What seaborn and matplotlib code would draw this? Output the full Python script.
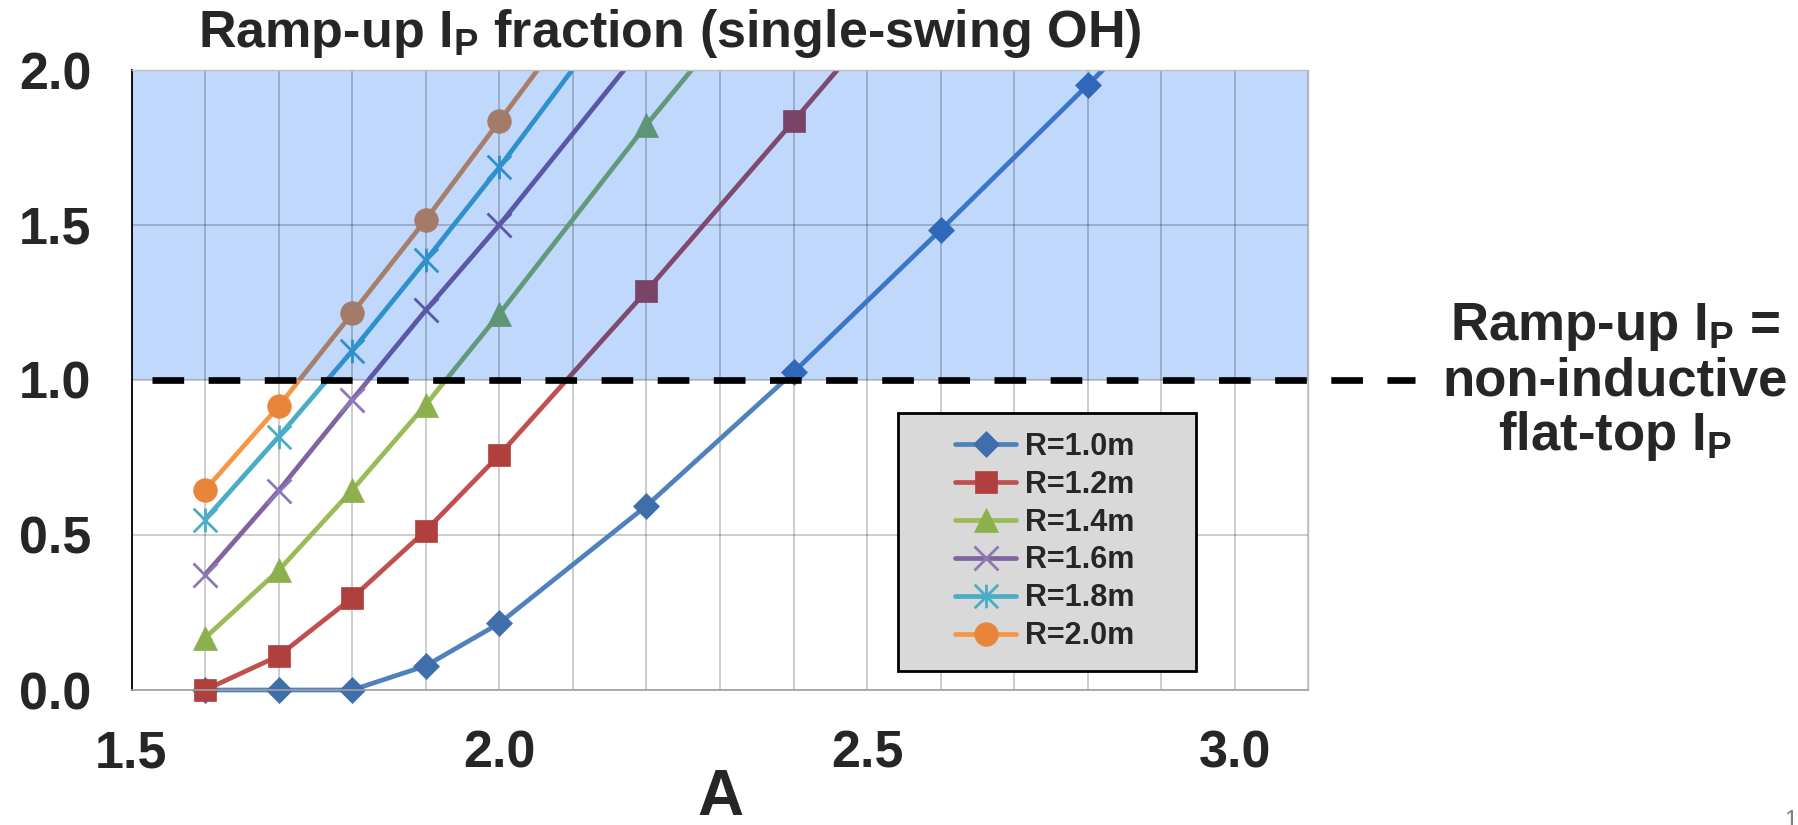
import matplotlib
matplotlib.use("Agg")
import matplotlib.pyplot as plt
import seaborn as sns
from matplotlib.patches import Rectangle
from matplotlib.path import Path
from matplotlib.transforms import Bbox, TransformedBbox
from matplotlib.ticker import MultipleLocator, FixedLocator, FormatStrFormatter

# ---------------- data ----------------
series_labels = ["R=1.0m", "R=1.2m", "R=1.4m", "R=1.6m", "R=1.8m", "R=2.0m"]

A_R10 = [1.6, 1.7, 1.8, 1.9, 2.0, 2.2, 2.4, 2.6, 2.8, 3.0]
F_R10 = [0.0, 0.0, 0.0, 0.078, 0.215, 0.594, 1.025, 1.484, 1.952, 2.42]

A_R12 = [1.6, 1.7, 1.8, 1.9, 2.0, 2.2, 2.4, 2.6]
F_R12 = [0.0, 0.11, 0.297, 0.514, 0.758, 1.287, 1.835, 2.39]

A_R14 = [1.6, 1.7, 1.8, 1.9, 2.0, 2.2, 2.4]
F_R14 = [0.168, 0.386, 0.645, 0.92, 1.213, 1.823, 2.40]

A_R16 = [1.6, 1.7, 1.8, 1.9, 2.0, 2.2]
F_R16 = [0.372, 0.643, 0.936, 1.225, 1.50, 2.09]

A_R18 = [1.6, 1.7, 1.8, 1.9, 2.0, 2.2]
F_R18 = [0.55, 0.817, 1.094, 1.386, 1.686, 2.32]

A_R20 = [1.6, 1.7, 1.8, 1.9, 2.0, 2.2]
F_R20 = [0.645, 0.915, 1.215, 1.517, 1.835, 2.47]

x_major_ticks = [1.5, 2.0, 2.5, 3.0]
y_major_ticks = [0.0, 0.5, 1.0, 1.5, 2.0]
threshold = 1.0

title_text = "Ramp-up I$_{P}$ fraction (single-swing OH)"
xlabel_text = "A"
note_lines = ["Ramp-up I$_{P}$ =", "non-inductive", "flat-top I$_{P}$"]
page_number = "1"

# ---------------- styles ----------------
line_colors = ["#4F81BD", "#C0504D", "#9BBB59", "#8064A2", "#4BACC6", "#F79646"]
marker_colors = ["#3F6FAA", "#B0403D", "#8DB04C", "#8E78B4", "#4BACC6", "#E8853A"]
shade_line_colors = ["#3A76C8", "#7F4A6E", "#62997A", "#5A56A8", "#2E90CC", "#A67E6B"]
shade_marker_colors = ["#2F68B8", "#7A4468", "#5E9576", "#5A56A8", "#2E90CC", "#A47A68"]

star = Path([(-1, -1), (1, 1), (-1, 1), (1, -1), (0, -1), (0, 1)],
            [Path.MOVETO, Path.LINETO, Path.MOVETO, Path.LINETO, Path.MOVETO, Path.LINETO])
markers = ["D", "s", "^", "x", star, "o"]
marker_sizes = [13.0, 16.5, 17.5, 17.0, 17.0, 17.0]
unfilled = [False, False, False, True, True, False]

sns.set_style("white")
plt.rcParams["font.family"] = ["Liberation Sans", "DejaVu Sans"]
plt.rcParams["mathtext.fontset"] = "custom"
plt.rcParams["mathtext.rm"] = "Liberation Sans:bold"
plt.rcParams["mathtext.it"] = "Liberation Sans:bold"
plt.rcParams["mathtext.bf"] = "Liberation Sans:bold"

W, H = 1799, 825
fig = plt.figure(figsize=(W / 100, H / 100), dpi=100)
ax_l, ax_r, ax_t, ax_b = 131.5, 1308.5, 70, 690
ax = fig.add_axes([ax_l / W, 1 - ax_b / H, (ax_r - ax_l) / W, (ax_b - ax_t) / H])

ax.set_xlim(1.5, 3.1)
ax.set_ylim(0, 2.0)

# shaded region (ramp-up fraction above 1)
ax.axhspan(threshold, 2.0, color="#BFD8FB", lw=0, zorder=0.1)

all_A = [A_R10, A_R12, A_R14, A_R16, A_R18, A_R20]
all_F = [F_R10, F_R12, F_R14, F_R16, F_R18, F_R20]

# clip boxes: x in axes fraction, y in data units
ytrans = ax.get_yaxis_transform()
box_low = TransformedBbox(Bbox([[-0.1, -0.3], [1.1, threshold]]), ytrans)
box_up = TransformedBbox(Bbox([[0.0, threshold], [1.0, 2.0]]), ytrans)


def draw(A, F, color, mcol, marker, ms, hollow, clipbox):
    n0 = len(ax.lines)
    kw = dict(color=color, linewidth=3.4, marker=marker, markersize=ms,
              errorbar=None, legend=False, ax=ax)
    if hollow:
        kw.update(markerfacecolor="none", markeredgecolor=mcol, markeredgewidth=2.0)
    else:
        kw.update(markerfacecolor=mcol, markeredgecolor=mcol, markeredgewidth=0.5)
    sns.lineplot(x=A, y=F, **kw)
    new = list(ax.lines[n0:])
    for ln in new:
        ln.set_clip_path(None)
        ln.set_clip_box(clipbox)
    return new


handles = []
for i in range(6):
    ln = draw(all_A[i], all_F[i], line_colors[i], marker_colors[i], markers[i],
              marker_sizes[i], unfilled[i], box_low)
    handles.append(ln[0])
for i in range(6):
    draw(all_A[i], all_F[i], shade_line_colors[i], shade_marker_colors[i], markers[i],
         marker_sizes[i], unfilled[i], box_up)

# dashed threshold line, extending past the axes to the note
ax.axhline(threshold, xmin=0.0172, xmax=1.0905, color="black", lw=4.8,
           linestyle=(0, (4.75, 3.67)), clip_on=False, zorder=3)

# ticks & grid
ax.xaxis.set_major_locator(FixedLocator(x_major_ticks))
ax.xaxis.set_minor_locator(MultipleLocator(0.1))
ax.yaxis.set_major_locator(FixedLocator(y_major_ticks))
ax.yaxis.set_minor_locator(MultipleLocator(0.1))
ax.xaxis.set_major_formatter(FormatStrFormatter("%.1f"))
ax.yaxis.set_major_formatter(FormatStrFormatter("%.1f"))

ax.set_axisbelow(True)
ax.xaxis.grid(True, which="both", color="black", alpha=0.25, lw=1.1)
ax.yaxis.grid(True, which="major", color="black", alpha=0.25, lw=1.1)

ax.tick_params(axis="x", which="major", direction="out", length=11.5, width=1.0,
               color="#A0A0A0", pad=17, labelsize=37.5)
ax.tick_params(axis="x", which="minor", length=0)
ax.tick_params(axis="y", which="major", direction="out", length=12, width=1.2,
               color="black", pad=17, labelsize=37.5)
ax.tick_params(axis="y", which="minor", direction="in", length=8.5, width=1.0, color="black")
for lab in ax.get_xticklabels() + ax.get_yticklabels():
    lab.set_fontweight("bold")

ax.spines["left"].set_color("black")
ax.spines["left"].set_linewidth(1.3)
ax.spines["bottom"].set_color("#A0A0A0")
ax.spines["bottom"].set_linewidth(1.2)
for s in ("top", "right"):
    ax.spines[s].set_color("#BFBFBF")
    ax.spines[s].set_linewidth(1.0)

# labels
ax.set_xlabel(xlabel_text, fontsize=46, fontweight="bold")
ax.xaxis.set_label_coords(0.5, (ax_b - 768) / (ax_b - ax_t))
ax.set_title(title_text, fontsize=37.5, fontweight="bold",
             x=(670 - ax_l) / (ax_r - ax_l), pad=16.5)

# note on the right
for txt, base in zip(note_lines, [340, 395, 450]):
    fig.text(1615 / W, 1 - base / H, txt, ha="center", va="baseline",
             fontsize=38, fontweight="bold")

# legend with grey box
box = Rectangle((898 / W, 1 - 671 / H), 298 / W, 258 / H, transform=fig.transFigure,
                facecolor="#D9D9D9", edgecolor="black", lw=2.0, zorder=4, clip_on=False)
ax.add_patch(box)
leg = ax.legend(handles=handles, labels=series_labels, loc="center",
                bbox_to_anchor=(1045 / W, 1 - 541.5 / H), bbox_transform=fig.transFigure,
                frameon=False, prop={"size": 22, "weight": "bold"}, handlelength=2.0,
                handletextpad=0.3, labelspacing=0.26, borderpad=0.0)
leg.set_zorder(5)

fig.text(1791 / W, 1 - 810 / H, page_number, ha="center", va="top",
         fontsize=17, color="#808080")

fig.savefig("out.png", dpi=100)
